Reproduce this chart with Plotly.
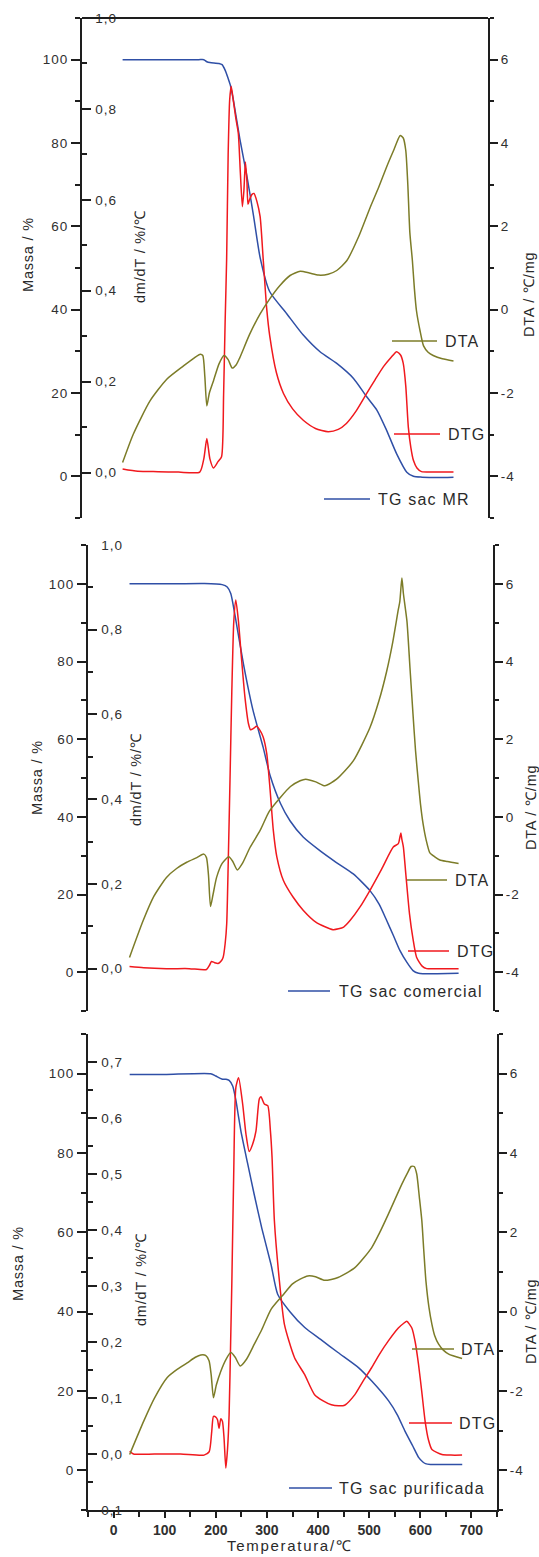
import plotly.graph_objects as go

FONT = "Liberation Sans, Arial, sans-serif"
TXT = "#303030"
AXC = "#1e1e1e"
C_TG = "#2f4fa6"
C_DTG = "#f0191e"
C_DTA = "#7c7c28"

# ---------------- Panel 1 : sac MR ----------------
p1_tg_T = [30, 100, 180, 190, 196, 202, 220, 226, 232, 238, 242, 248, 261, 275, 288, 301, 320, 353, 386, 419, 452, 485, 511, 531, 550, 570, 590, 603, 620, 650, 682]
p1_tg_M = [100, 100, 100, 100, 99.5, 99.3, 99.1, 98.8, 97.5, 95.5, 94, 90.5, 81, 72, 62.5, 52.5, 44.3, 39.1, 33.9, 29.9, 27.1, 23.5, 19.1, 15.9, 11.1, 5.4, 1.0, 0, -0.2, -0.3, -0.2]

p1_dtg_T = [30, 60, 100, 140, 182, 190, 196, 202, 209, 218, 225, 229, 232, 235, 238, 241, 244, 248, 253, 258, 262, 266, 269, 272, 275, 277, 280, 285, 289, 295, 301, 307, 314, 320, 333, 347, 365, 386, 410, 435, 455, 471, 490, 511, 528, 544, 558, 570, 578, 583, 588, 593, 598, 603, 610, 619, 640, 660, 682]
p1_dtg_D = [0.008, 0.003, 0.002, 0.001, 0.001, 0.03, 0.075, 0.03, 0.01, 0.024, 0.035, 0.17, 0.33, 0.47, 0.7, 0.82, 0.85, 0.82, 0.78, 0.746, 0.66, 0.585, 0.62, 0.683, 0.64, 0.59, 0.6, 0.612, 0.614, 0.595, 0.563, 0.47, 0.36, 0.30, 0.22, 0.174, 0.14, 0.115, 0.097, 0.09, 0.095, 0.108, 0.135, 0.174, 0.205, 0.233, 0.252, 0.266, 0.258, 0.24, 0.19, 0.10, 0.055, 0.027, 0.01, 0.002, 0.001, 0.001, 0.001]

p1_dta_T = [30, 51, 84, 117, 150, 172, 183, 188, 192, 196, 201, 209, 220, 230, 238, 246, 254, 261, 280, 301, 320, 340, 360, 380, 398, 416, 435, 452, 472, 495, 518, 535, 550, 565, 577, 583, 588, 592, 596, 601, 605, 609, 616, 623, 632, 642, 660, 682]
p1_dta_A = [-3.67, -2.99, -2.19, -1.67, -1.35, -1.15, -1.07, -1.1, -1.6, -2.31, -2.0, -1.71, -1.3, -1.1, -1.2, -1.4, -1.32, -1.15, -0.6, -0.1, 0.26, 0.58, 0.82, 0.92, 0.88, 0.83, 0.85, 0.94, 1.18, 1.75, 2.46, 2.95, 3.42, 3.85, 4.18, 4.12, 3.82, 3.0, 1.85, 1.18, 0.5, -0.02, -0.5, -0.87, -1.02, -1.1, -1.18, -1.23]

# ---------------- Panel 2 : sac comercial ----------------
p2_tg_T = [32, 100, 180, 215, 225, 232, 240, 257, 276, 296, 310, 330, 349, 375, 408, 440, 474, 507, 525, 540, 553, 566, 580, 592, 603, 612, 640, 682]
p2_tg_M = [100, 100, 100.1, 99.8, 99.2, 97.5, 92.2, 79.4, 67.4, 57.9, 50.5, 43.5, 39, 34.8, 31.3, 28.3, 25.3, 21, 17.5, 13.3, 9.5, 5.6, 2.5, 0.4, -0.3, -0.4, -0.4, -0.3]

p2_dtg_T = [32, 60, 105, 150, 184, 190, 194, 200, 207, 213, 217, 221, 224, 227, 230.5, 234, 238, 242, 247, 253.5, 260, 267, 271, 277, 283, 290, 296, 303, 309.5, 316, 323, 336, 355, 375, 400, 434, 455, 468, 487, 507, 530, 553, 563, 566, 568, 570, 573, 578, 585, 592, 599, 610, 619, 650, 682]
p2_dtg_D = [0.005, 0.002, 0, 0, -0.002, 0.008, 0.017, 0.014, 0.012, 0.018, 0.027, 0.06, 0.106, 0.25, 0.445, 0.65, 0.82, 0.87, 0.822, 0.728, 0.641, 0.578, 0.564, 0.567, 0.572, 0.562, 0.547, 0.508, 0.425, 0.327, 0.264, 0.208, 0.169, 0.138, 0.11, 0.092, 0.098, 0.114, 0.145, 0.185, 0.235, 0.287, 0.295, 0.31, 0.32, 0.305, 0.287, 0.22, 0.13, 0.07, 0.027, 0.006, 0, 0, 0]

p2_dta_T = [32, 59, 80, 105, 125, 145, 165, 179, 184, 188, 192, 197, 204, 215, 228, 236, 245, 255, 270, 290, 308, 330, 350, 369, 380, 400, 418, 441, 474, 507, 525, 540, 552, 563, 566, 570, 573, 580, 586, 592, 597, 602, 607, 612, 618, 625, 635, 645, 660, 682]
p2_dta_A = [-3.62, -2.67, -2.05, -1.56, -1.33, -1.17, -1.05, -0.96, -1.05, -1.5, -2.31, -2.0, -1.56, -1.2, -1.03, -1.15, -1.37, -1.2, -0.79, -0.35, 0.14, 0.5, 0.78, 0.93, 0.97, 0.9, 0.8, 0.97, 1.44, 2.3, 3.0, 3.75, 4.5, 5.34, 5.55, 6.15, 5.75, 5.04, 3.84, 2.64, 1.7, 0.97, 0.3, -0.19, -0.6, -0.92, -1.03, -1.11, -1.15, -1.2]

# ---------------- Panel 3 : sac purificada ----------------
p3_tg_T = [31.5, 100, 190, 200, 213, 220, 226, 233, 239, 244, 249, 262, 275, 290, 308, 321, 345, 374, 405, 439, 479, 505, 538, 555, 570, 585, 597, 605, 610, 620, 650, 682]
p3_tg_M = [99.8, 99.8, 100, 99.4, 98.6, 98.6, 98.3, 96.9, 93.5, 89.5, 85.6, 77.5, 69.6, 61, 51.9, 44.4, 40, 36, 33, 29.7, 25.9, 22.5, 17.5, 14, 9.9, 6.2, 3.2, 2.1, 1.7, 1.5, 1.5, 1.5]

p3_dtg_T = [31.5, 39, 80, 131, 177, 187, 192, 195.4, 200, 203.3, 206.4, 209.8, 213, 216, 219.6, 223, 226, 229, 231.4, 235, 239.3, 244.6, 252.5, 259, 265.4, 272, 278.6, 285, 288.3, 294.9, 301.6, 306.8, 310, 314.6, 324.4, 334.3, 354, 373.6, 393.2, 410, 426, 440, 452, 472, 488, 504.7, 520, 537.5, 557, 567, 573.5, 583.4, 590, 596.5, 603, 609.5, 616, 622.7, 642.3, 660, 681.7]
p3_dtg_D = [0.005, 0, 0, 0, -0.002, 0.004, 0.04, 0.067, 0.066, 0.061, 0.046, 0.063, 0.058, 0.03, -0.025, 0.01, 0.07, 0.2, 0.309, 0.5, 0.655, 0.672, 0.625, 0.571, 0.54, 0.553, 0.577, 0.634, 0.638, 0.625, 0.622, 0.577, 0.53, 0.416, 0.309, 0.231, 0.172, 0.142, 0.106, 0.095, 0.088, 0.086, 0.087, 0.106, 0.13, 0.154, 0.178, 0.202, 0.225, 0.233, 0.237, 0.225, 0.2, 0.16, 0.11, 0.058, 0.025, 0.008, -0.001, -0.002, -0.002]

p3_dta_T = [31.5, 59, 80, 105, 125, 144, 160, 170.5, 180, 186.8, 191, 195.4, 201, 209.8, 220, 229.5, 238, 247.7, 260, 275.3, 290, 308, 330, 350, 365, 380, 395, 413, 439, 472, 504.7, 520, 537.5, 563.7, 575, 582, 588, 593, 598, 603, 607, 611, 617, 622.7, 628, 635.8, 645, 655.5, 681.7]
p3_dta_A = [-3.6, -2.76, -2.18, -1.66, -1.45, -1.29, -1.15, -1.09, -1.1, -1.24, -1.6, -2.17, -1.85, -1.5, -1.2, -1.03, -1.15, -1.37, -1.2, -0.82, -0.45, 0.06, 0.4, 0.7, 0.82, 0.9, 0.88, 0.79, 0.86, 1.11, 1.61, 1.98, 2.46, 3.21, 3.5, 3.66, 3.66, 3.47, 2.9, 2.29, 1.5, 0.77, 0.1, -0.32, -0.6, -0.82, -0.97, -1.07, -1.18]

# tick labels
massa_vals = [0, 20, 40, 60, 80, 100]
massa_text = ["0", "20", "40", "60", "80", "100"]
dmdt12_vals = [0, 0.2, 0.4, 0.6, 0.8, 1.0]
dmdt12_text = ["0,0", "0,2", "0,4", "0,6", "0,8", "1,0"]
dmdt3_vals = [-0.1, 0, 0.1, 0.2, 0.3, 0.4, 0.5, 0.6, 0.7]
dmdt3_text = ["0,1", "0,0", "0,1", "0,2", "0,3", "0,4", "0,5", "0,6", "0,7"]
dta_vals = [-4, -2, 0, 2, 4, 6]
dta_text = ["-4", "-2", "0", "2", "4", "6"]
x_vals = [0, 100, 200, 300, 400, 500, 600, 700]
x_text = ["0", "100", "200", "300", "400", "500", "600", "700"]

series = [
    (p1_tg_T, p1_tg_M), (p1_dtg_T, p1_dtg_D), (p1_dta_T, p1_dta_A),
    (p2_tg_T, p2_tg_M), (p2_dtg_T, p2_dtg_D), (p2_dta_T, p2_dta_A),
    (p3_tg_T, p3_tg_M), (p3_dtg_T, p3_dtg_D), (p3_dta_T, p3_dta_A),
]
for a, b in series:
    assert len(a) == len(b), (len(a), len(b))

W, H = 539, 1557
def px(x):
    return x / W
def py(y):
    return 1 - y / H

def ls(s, sp):
    return f'<span style="letter-spacing:{sp}px">{s}</span>'

fig = go.Figure()

panels = [
    dict(xd=(82, 488), yd=(18, 518), dm=(-0.1, 1.0), dmv=dmdt12_vals, dmt=dmdt12_text, dmminor=0.1),
    dict(xd=(88, 493), yd=(545, 1011), dm=(-0.1, 1.0), dmv=dmdt12_vals, dmt=dmdt12_text, dmminor=0.1),
    dict(xd=(88, 497), yd=(1034, 1510), dm=(-0.1, 0.75), dmv=dmdt3_vals, dmt=dmdt3_text, dmminor=0.05),
]
data_sets = [
    (p1_tg_T, p1_tg_M, p1_dtg_T, p1_dtg_D, p1_dta_T, p1_dta_A),
    (p2_tg_T, p2_tg_M, p2_dtg_T, p2_dtg_D, p2_dta_T, p2_dta_A),
    (p3_tg_T, p3_tg_M, p3_dtg_T, p3_dtg_D, p3_dta_T, p3_dta_A),
]

TSP = 1.0
tickfont = dict(family=FONT, size=13.5, color=TXT)
layout = dict(
    width=W, height=H, margin=dict(l=0, r=0, t=0, b=0, autoexpand=False),
    paper_bgcolor="white", plot_bgcolor="rgba(0,0,0,0)",
    showlegend=False, font=dict(family=FONT, color=TXT),
)

for i, (p, d) in enumerate(zip(panels, data_sets)):
    xn = "x" if i == 0 else f"x{i+1}"
    xk = "xaxis" if i == 0 else f"xaxis{i+1}"
    yb = 3 * i + 1
    yn = ["y" if yb == 1 else f"y{yb}", f"y{yb+1}", f"y{yb+2}"]
    yk = ["yaxis" if yb == 1 else f"yaxis{yb}", f"yaxis{yb+1}", f"yaxis{yb+2}"]
    xdom = [px(p["xd"][0]), px(p["xd"][1])]
    ydom = [py(p["yd"][1]), py(p["yd"][0])]

    fig.add_trace(go.Scatter(x=d[4], y=d[5], mode="lines", line=dict(color=C_DTA, width=1.5, shape="spline", smoothing=0.6),
                             xaxis=xn, yaxis=yn[2]))
    fig.add_trace(go.Scatter(x=d[2], y=d[3], mode="lines", line=dict(color=C_DTG, width=1.5, shape="spline", smoothing=0.6),
                             xaxis=xn, yaxis=yn[1]))
    fig.add_trace(go.Scatter(x=d[0], y=d[1], mode="lines", line=dict(color=C_TG, width=1.5, shape="spline", smoothing=0.6),
                             xaxis=xn, yaxis=yn[0]))

    xa = dict(domain=xdom, range=[-50, 750], anchor=yn[0], showgrid=False, zeroline=False, automargin=False)
    if i == 2:
        xa.update(showline=True, linecolor=AXC, linewidth=2, ticks="outside", ticklen=6, tickwidth=1.5,
                  tickcolor=AXC, tickvals=x_vals, ticktext=[f"<b>{t}</b>" for t in x_text],
                  tickfont=dict(family=FONT, size=14, color=TXT),
                  minor=dict(ticks="outside", ticklen=5, tickwidth=1.5, tickcolor=AXC, dtick=50, tick0=-50, showgrid=False))
    else:
        xa.update(visible=False)
    layout[xk] = xa

    layout[yk[0]] = dict(domain=ydom, range=[-10, 110], anchor=xn, side="left", showgrid=False, zeroline=False,
                         automargin=False,
                         showline=True, linecolor=AXC, linewidth=2, ticks="outside", ticklen=9, tickwidth=1.5,
                         tickcolor=AXC, tickvals=massa_vals, ticktext=[ls(t, TSP) for t in massa_text], tickfont=tickfont,
                         minor=dict(ticks="outside", ticklen=5, tickwidth=1.5, tickcolor=AXC, dtick=10, tick0=0, showgrid=False))
    layout[yk[1]] = dict(overlaying=yn[0], range=list(p["dm"]), anchor=xn, side="left", showgrid=False, zeroline=False,
                         automargin=False,
                         showline=False, ticks="inside", ticklen=9, tickwidth=1.5, tickcolor=AXC,
                         ticklabelposition="inside", ticklabeloverflow="allow", ticklabelstandoff=4,
                         tickvals=p["dmv"], ticktext=[ls(t, TSP) for t in p["dmt"]], tickfont=tickfont,
                         minor=dict(ticks="inside", ticklen=5, tickwidth=1.5, tickcolor=AXC, dtick=p["dmminor"], tick0=0, showgrid=False))
    layout[yk[2]] = dict(overlaying=yn[0], range=[-5, 7], anchor=xn, side="right", showgrid=False, zeroline=False,
                         automargin=False,
                         showline=True, linecolor=AXC, linewidth=2, ticks="outside", ticklen=8, tickwidth=1.5,
                         tickcolor=AXC, tickvals=dta_vals, ticktext=[ls(t, TSP) for t in dta_text], tickfont=tickfont,
                         minor=dict(ticks="outside", ticklen=4, tickwidth=1.5, tickcolor=AXC, dtick=1, tick0=0, showgrid=False))

fig.update_layout(**layout)

shapes = []
annotations = []
shapes.append(dict(type="line", xref="paper", yref="paper", x0=px(82), x1=px(488), y0=py(18), y1=py(18),
                   line=dict(color=AXC, width=2)))

legend_items = [
    (392, 437, 341, 443, "DTA", C_DTA),
    (394, 440, 434, 446, "DTG", C_DTG),
    (324, 370, 499, 376, "TG sac MR", C_TG),
    (407, 447, 880, 453, "DTA", C_DTA),
    (408, 449, 951, 455, "DTG", C_DTG),
    (288, 330, 991, 337, "TG sac comercial", C_TG),
    (412, 454, 1349, 459, "DTA", C_DTA),
    (409, 452, 1423, 457, "DTG", C_DTG),
    (289, 332, 1488, 337, "TG sac purificada", C_TG),
]
for x0, x1, y, tx, lab, col in legend_items:
    shapes.append(dict(type="line", xref="paper", yref="paper", x0=px(x0), x1=px(x1), y0=py(y), y1=py(y),
                       line=dict(color=col, width=1.5)))
    annotations.append(dict(xref="paper", yref="paper", x=px(tx), y=py(y), xanchor="left", yanchor="middle",
                            text=ls(lab, 1.2), showarrow=False, font=dict(family=FONT, size=16, color="#2a2a2a")))

axis_titles = [
    (28, 255, "Massa / %"), (140, 257, "dm/dT / %/\u2103"), (529, 295, "DTA / \u2103/mg"),
    (37, 778, "Massa / %"), (136, 780, "dm/dT / %/\u2103"), (531, 808, "DTA / \u2103/mg"),
    (18, 1264, "Massa / %"), (141, 1280, "dm/dT / %/\u2103"), (531, 1322, "DTA / \u2103/mg"),
]
for x, y, t in axis_titles:
    annotations.append(dict(xref="paper", yref="paper", x=px(x), y=py(y), xanchor="center", yanchor="middle",
                            text=ls(t, 0.8), textangle=-90, showarrow=False, font=dict(family=FONT, size=14.5, color="#2a2a2a")))

annotations.append(dict(xref="paper", yref="paper", x=px(289), y=py(1545), xanchor="center", yanchor="middle",
                        text=ls("Temperatura/\u2103", 1.7), showarrow=False, font=dict(family=FONT, size=15, color="#2a2a2a")))

fig.update_layout(shapes=shapes, annotations=annotations)
fig.write_html("out.html")
